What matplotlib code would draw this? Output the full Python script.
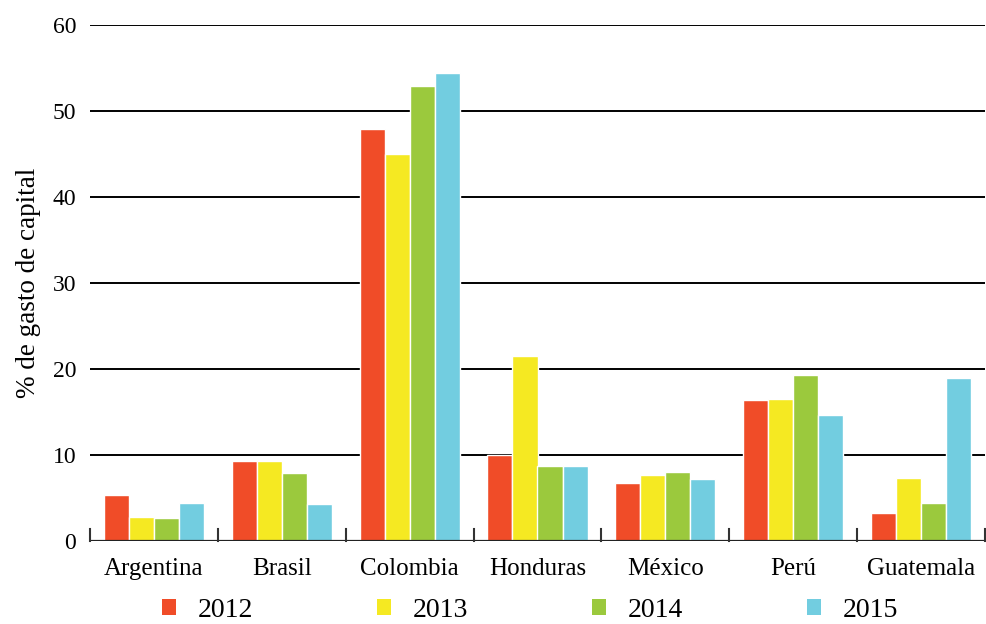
import numpy as np
import matplotlib.pyplot as plt
from matplotlib.patches import Patch

plt.rcParams['font.family'] = ['Liberation Serif', 'DejaVu Serif']

# Datos
paises = ['Argentina', 'Brasil', 'Colombia', 'Honduras', 'México', 'Perú', 'Guatemala']
anios = ['2012', '2013', '2014', '2015']
v2012 = [5.3, 9.3, 47.9, 10.0, 6.8, 16.4, 3.3]
v2013 = [2.8, 9.3, 45.0, 21.5, 7.7, 16.5, 7.3]
v2014 = [2.7, 7.9, 52.9, 8.7, 8.0, 19.3, 4.4]
v2015 = [4.4, 4.3, 54.4, 8.7, 7.2, 14.7, 19.0]
colores = ['#F04C28', '#F5E922', '#9BC93D', '#72CDE0']

series = [v2012, v2013, v2014, v2015]
x = np.arange(len(paises))

fig = plt.figure(figsize=(9.87, 6.24), dpi=100)
ax = fig.add_axes([90 / 987, 83 / 624, 895 / 987, 516 / 624])

ancho = 0.196
for i, (vals, col) in enumerate(zip(series, colores)):
    ax.bar(x + (i - 1.5) * ancho, vals, width=ancho, color=col,
           edgecolor='white', linewidth=1.0, label=anios[i], zorder=3)

# líneas horizontales
for y in range(10, 61, 10):
    ax.axhline(y, color='black', linewidth=1.4, zorder=1)
ax.axhline(0, color='#222222', linewidth=1.6, zorder=4)

ax.set_xlim(-0.5, len(paises) - 0.5)
ax.set_ylim(0, 60)
ax.set_yticks(range(0, 61, 10))
for s in ax.spines.values():
    s.set_visible(False)

ax.tick_params(axis='y', length=0, labelsize=17, pad=10)
ax.set_xticks(x)
ax.set_xticklabels(paises, fontsize=18)
ax.tick_params(axis='x', length=0, pad=12)

# marcas entre categorías
for b in np.arange(-0.5, len(paises), 1.0):
    ax.plot([b, b], [0, 1.4], color='#333333', linewidth=1.5, zorder=5,
            clip_on=False)

ax.set_ylabel('% de gasto de capital', fontsize=19.5, labelpad=8)

handles = [Patch(facecolor=c, edgecolor='none') for c in colores]
fig.legend(handles, anios, loc='center', bbox_to_anchor=(0.537, 0.022),
           ncol=4, frameon=False, fontsize=20, handlelength=0.5,
           handleheight=0.5, handletextpad=0.8, columnspacing=4.45)

fig.savefig('out.png', dpi=100)
